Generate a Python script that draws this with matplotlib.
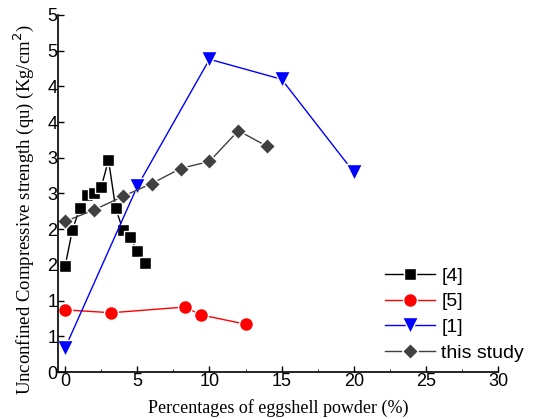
import matplotlib
matplotlib.use("Agg")
import matplotlib.pyplot as plt
import numpy as np

# Data
x4 = [0, 0.5, 1, 1.5, 2, 2.5, 3, 3.5, 4, 4.5, 5, 5.5]
y4 = [1.49, 1.99, 2.29, 2.48, 2.50, 2.59, 2.97, 2.29, 1.99, 1.89, 1.69, 1.52]
x5 = [0, 3.2, 8.3, 9.4, 12.5]
y5 = [0.87, 0.83, 0.91, 0.80, 0.67]
x1 = [0, 5, 10, 15, 20]
y1 = [0.34, 2.60, 4.38, 4.10, 2.80]
xs = [0, 2, 4, 6, 8, 10, 12, 14]
ys = [2.11, 2.27, 2.46, 2.64, 2.85, 2.95, 3.38, 3.16]

ytick_vals = [0, 0.5, 1, 1.5, 2, 2.5, 3, 3.5, 4, 4.5, 5]
ytick_labels = ['0', '1', '1', '2', '2', '3', '3', '4', '4', '5', '5']
xtick_vals = [0, 5, 10, 15, 20, 25, 30]

fig = plt.figure(figsize=(5.35, 4.19), dpi=100)
ax = fig.add_axes([58/535, 1 - 372/419, (498 - 58)/535, (372 - 15)/419])

sans = 'Liberation Sans'
serif = 'Liberation Serif'

kw = dict(markeredgecolor='white', markeredgewidth=1.0, linewidth=1.0)
ax.plot(x4, y4, color='black', marker='s', markersize=9, markerfacecolor='black', label='[4]', **kw)
ax.plot(x5, y5, color='red', marker='o', markersize=10, markerfacecolor='red', label='[5]', **kw)
ax.plot(x1, y1, color='blue', marker='v', markersize=11, markerfacecolor='blue', label='[1]', **kw)
ax.plot(xs, ys, color='#404040', marker='D', markersize=8.5, markerfacecolor='#404040', label='this study', **kw)

ax.set_xlim(-0.5, 30)
ax.set_ylim(0, 5)
ax.set_xticks(xtick_vals)
ax.set_xticks(np.arange(0, 30.1, 2.5), minor=True)
ax.set_yticks(ytick_vals)
ax.set_yticklabels(ytick_labels)
for lab in ax.get_xticklabels() + ax.get_yticklabels():
    lab.set_fontfamily(sans)
    lab.set_fontsize(13)
ax.tick_params(direction='in', length=4, width=1, pad=1)
ax.tick_params(axis='y', pad=0.5)
ax.tick_params(which='minor', direction='in', length=2)
ax.tick_params(axis='y', which='minor', left=False)

for s in ['top', 'right']:
    ax.spines[s].set_visible(False)
for s in ['left', 'bottom']:
    ax.spines[s].set_linewidth(1.2)

ax.set_xlabel('Percentages of eggshell powder (%)', fontfamily=serif, fontsize=13, labelpad=6)
ax.set_ylabel('Unconfined Compressive strength (qu) (Kg/cm$^2$)', fontfamily=serif, fontsize=13.5)
ax.yaxis.set_label_coords(-0.05, 0.455)

leg = ax.legend(loc='lower right', bbox_to_anchor=(1.09, -0.01), frameon=False,
                prop={'family': sans, 'size': 14}, handlelength=2.6, handletextpad=0.3,
                labelspacing=0.42, borderaxespad=0.3)

fig.savefig('out.png', dpi=100)
